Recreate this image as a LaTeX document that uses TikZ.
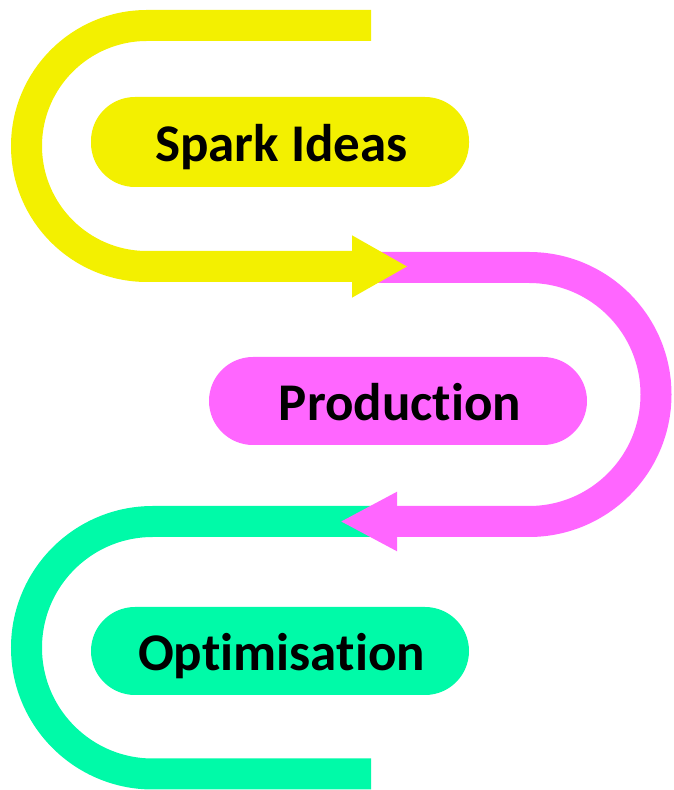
\documentclass[tikz,border=0pt]{standalone}
\usepackage{fontspec}
\setmainfont[Ligatures={NoCommon,NoContextual}]{Carlito}
\usetikzlibrary{arrows.meta}
\definecolor{cyel}{HTML}{F3F000}
\definecolor{cmag}{HTML}{FF66FF}
\definecolor{cgrn}{HTML}{00FAA8}
\tikzset{
  band/.style={line width=31pt},
  pill/.style={rounded corners=44pt, minimum width=378pt, inner sep=0pt,
    text height=40pt, text depth=0pt,
    font=\fontsize{53}{60}\selectfont\bfseries, text=black},
}
\begin{document}
\begin{tikzpicture}[x=1pt,y=1pt]
\useasboundingbox (0,0) rectangle (673,790);
% green band
\draw[band, cgrn] (372,268.5) -- (152.75,268.5) arc[start angle=90,end angle=270,radius=126.25] -- (371,16);
% magenta band
\draw[band, cmag, -{Triangle[length=57pt,width=55pt]}] (375,522.5) -- (529,522.5) arc[start angle=90,end angle=-90,radius=127] -- (340,268.5);
% yellow band
\draw[band, cyel, -{Triangle[length=56pt,width=58pt]}] (371,764.5) -- (147,764.5) arc[start angle=90,end angle=270,radius=120.5] -- (408,523.5);
% pills
\node[pill, fill=cyel, minimum height=90pt] (spark) at (280,648) {\hspace{3pt}Spark Ideas};
\node[pill, fill=cmag, minimum height=88pt] (prod) at (398,389) {\hspace{4pt}Production};
\node[pill, fill=cgrn, minimum height=88pt] (opt) at (280,139) {\hspace{3pt}Optimisation};
\end{tikzpicture}
\end{document}
